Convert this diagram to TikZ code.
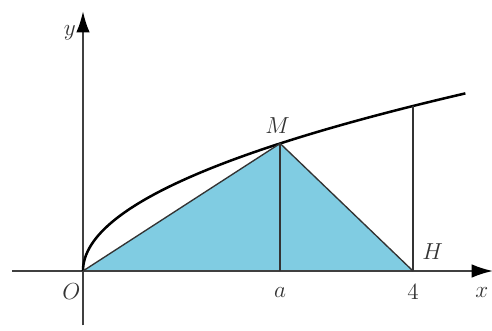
\documentclass[tikz,border=0pt]{standalone}
\usepackage{xcolor}
\usepackage{tikz}
\usetikzlibrary{arrows.meta}

\definecolor{skyfill}{RGB}{128,204,226}

\begin{document}
\begin{tikzpicture}[
  x=1.5cm, y=1.5cm,
  font=\large,
  axis/.style={line width=1pt, draw=black!75, -{Latex[length=11pt,width=7pt,black]}},
  curve/.style={line width=1.3pt, black},
  seg/.style={line width=0.7pt, draw=black!80},
  lbl/.style={inner sep=1pt, text=black!80}
]
\useasboundingbox (-1.006,-0.727) rectangle (4.958,3.285);

% ── Points ──
\coordinate (O) at (0,0);
\coordinate (M) at (2.39,{sqrt(2.39)});
\coordinate (A) at (2.39,0);
\coordinate (H) at (4,0);
\coordinate (P) at (4,2);
\coordinate (xl) at (-0.86,0);
\coordinate (xr) at (4.97,0);
\coordinate (yb) at (0,-0.66);
\coordinate (yt) at (0,3.15);

% ── Shaded triangle ──
\fill[skyfill] (O) -- (M) -- (H) -- cycle;

% ── Axes ──
\draw[axis] (xl) -- (xr);
\draw[axis] (yb) -- (yt);

% ── Curve y = sqrt(x) ──
\draw[curve] plot[variable=\t, domain=0:2.154, samples=80, smooth]
  ({\t*\t}, {\t});

% ── Segments ──
\draw[seg] (O) -- (M) -- (H);
\draw[seg] (M) -- (A);
\draw[seg] (H) -- (P);

% ── Labels ──
\node[lbl] (ylbl) at (-0.16, 2.885) {$y$};
\node[lbl] (olbl) at (-0.14, -0.255) {$O$};
\node[lbl] (albl) at (2.388, -0.265) {$a$};
\node[lbl] (fourlbl) at (4, -0.255) {$4$};
\node[lbl] (xlbl) at (4.836, -0.255) {$x$};
\node[lbl] (hlbl) at (4.24, 0.23) {$H$};
\node[lbl] (mlbl) at (2.36, 1.76) {$M$};

\end{tikzpicture}
\end{document}
